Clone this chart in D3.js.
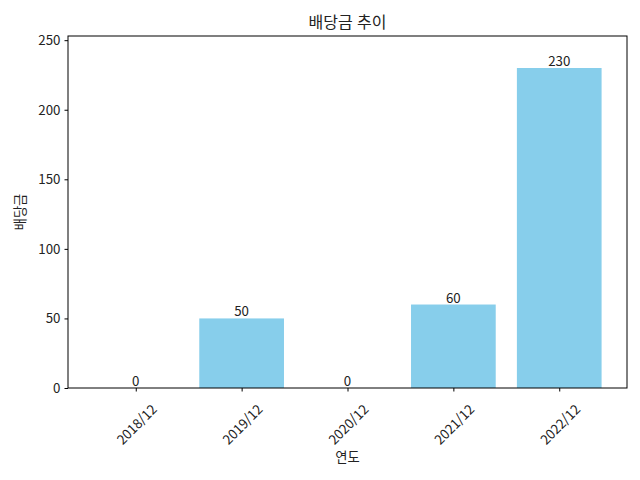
<!DOCTYPE html>
<html lang="ko">
<head>
    <meta charset="UTF-8">
    <title>배당금 추이</title>
    <script src="https://cdn.jsdelivr.net/npm/d3@7"></script>
    <style>
        body { margin: 0; background: #fff; }
        text { font-family: "Noto Sans CJK KR", "Noto Sans", sans-serif; fill: #222; }
    </style>
</head>
<body>
    <script type="text/javascript">
        // data
        var years = ["2018/12", "2019/12", "2020/12", "2021/12", "2022/12"];
        var dividends = [0, 50, 0, 60, 230];
        var yTicks = [0, 50, 100, 150, 200, 250];

        var W = 640, H = 480;
        // plot box (named so they don't clash with window.top)
        var pL = 68, pR = 627, pT = 36, pB = 388;

        var svg = d3.select("body").append("svg")
                .attr("width", W)
                .attr("height", H);

        var x = d3.scaleLinear().domain([-0.64, 4.64]).range([pL, pR]);
        var y = d3.scaleLinear().domain([0, 253]).range([pB, pT]);

        // bars
        svg.selectAll("rect.bar")
                .data(dividends)
                .enter()
                .append("rect")
                .attr("class", "bar")
                .attr("x", function(d, i) { return x(i - 0.4); })
                .attr("width", x(0.4) - x(-0.4))
                .attr("y", function(d) { return y(d); })
                .attr("height", function(d) { return y(0) - y(d); })
                .attr("fill", "#87ceeb");

        // value labels
        svg.selectAll("text.val")
                .data(dividends)
                .enter()
                .append("text")
                .attr("class", "val")
                .attr("x", function(d, i) { return x(i); })
                .attr("y", function(d) { return y(d) - 2; })
                .attr("text-anchor", "middle")
                .style("font-size", "13.3px")
                .text(function(d) { return d; });

        // y axis
        var yAxis = svg.append("g")
                .attr("transform", "translate(" + pL + ",0)")
                .call(d3.axisLeft(y).tickValues(yTicks).tickSize(3.5).tickPadding(4));
        yAxis.select(".domain").remove();
        yAxis.selectAll("text").style("font-size", "13.3px").style("font-family", "'Noto Sans CJK KR', sans-serif").attr("fill", "#222");
        yAxis.selectAll("line").attr("stroke", "#000");

        // x axis
        var xAxis = svg.append("g")
                .attr("transform", "translate(0," + pB + ")")
                .call(d3.axisBottom(x).tickValues(d3.range(years.length))
                        .tickFormat(function(i) { return years[i]; }).tickSize(3.5));
        xAxis.select(".domain").remove();
        xAxis.selectAll("line").attr("stroke", "#000");
        xAxis.selectAll("text")
                .attr("x", null).attr("y", null).attr("dy", null)
                .attr("text-anchor", "middle")
                .attr("dominant-baseline", "central")
                .attr("transform", "translate(0,36) rotate(-45)")
                .attr("fill", "#222")
                .style("font-size", "13.3px")
                .style("font-family", "'Noto Sans CJK KR', sans-serif");

        // frame
        svg.append("rect")
                .attr("x", pL).attr("y", pT)
                .attr("width", pR - pL).attr("height", pB - pT)
                .attr("fill", "none").attr("stroke", "#000").attr("stroke-width", 1);

        // titles
        svg.append("text")
                .attr("x", (pL + pR) / 2).attr("y", 28)
                .attr("text-anchor", "middle")
                .style("font-size", "16px")
                .text("배당금 추이");
        svg.append("text")
                .attr("x", (pL + pR) / 2).attr("y", 462)
                .attr("text-anchor", "middle")
                .style("font-size", "13.3px")
                .text("연도");
        svg.append("text")
                .attr("transform", "translate(25," + (pT + pB) / 2 + ") rotate(-90)")
                .attr("text-anchor", "middle")
                .style("font-size", "13.3px")
                .text("배당금");
    </script>
</body>
</html>
